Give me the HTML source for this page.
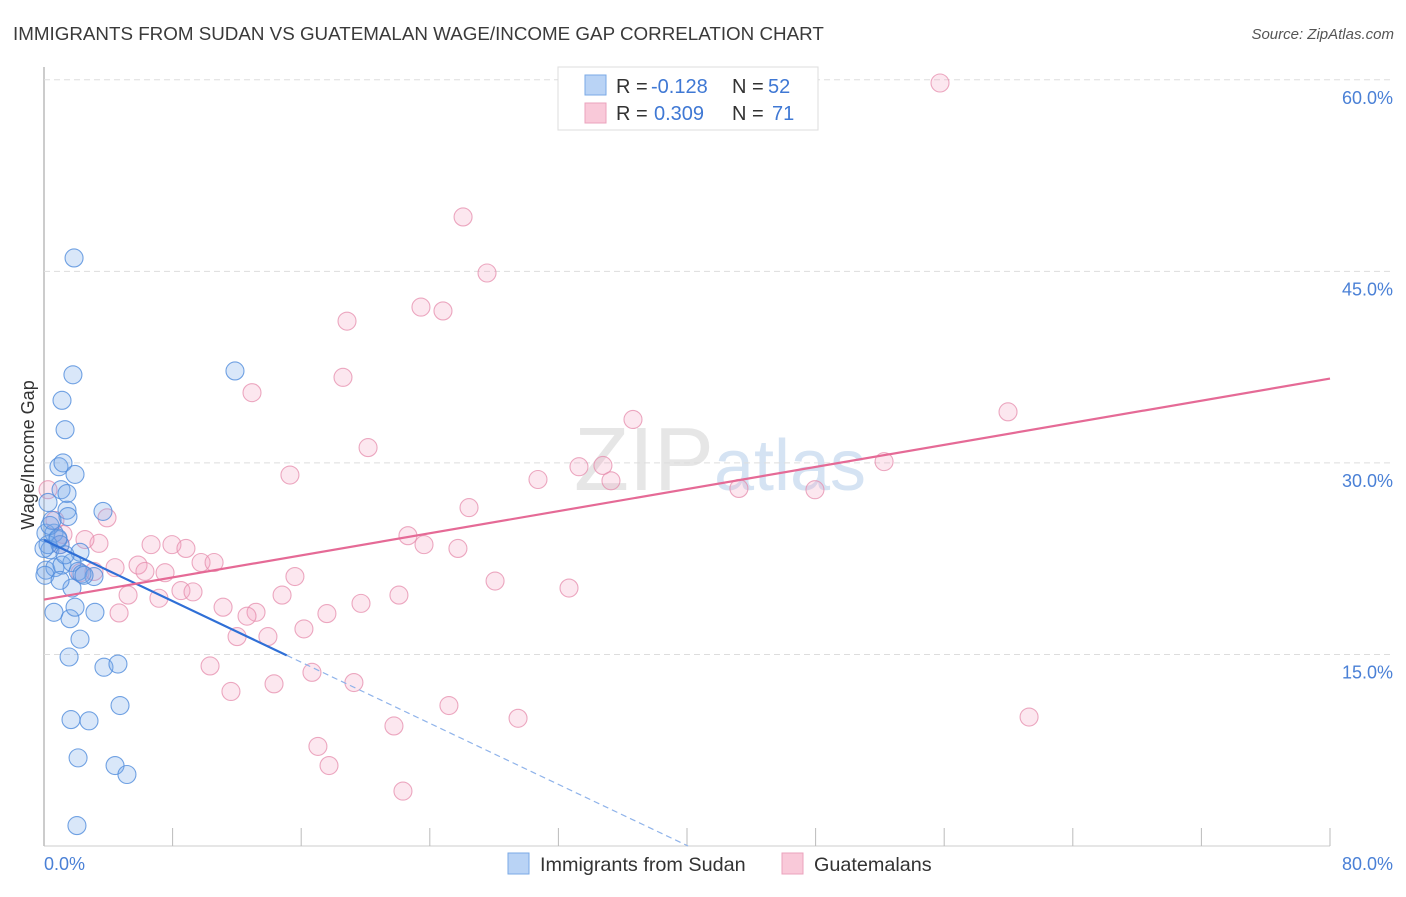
<!DOCTYPE html>
<html><head><meta charset="utf-8"><style>
body{margin:0;background:#fff;font-family:"Liberation Sans",sans-serif;}
svg text{font-family:"Liberation Sans",sans-serif;}
</style></head><body>
<svg id="c" width="1406" height="892" xmlns="http://www.w3.org/2000/svg">
<text x="13" y="40" font-size="18.8" fill="#3a3a3a">IMMIGRANTS FROM SUDAN VS GUATEMALAN WAGE/INCOME GAP CORRELATION CHART</text>
<text x="1394" y="39" font-size="15" fill="#555" font-style="italic" text-anchor="end">Source: ZipAtlas.com</text>
<text x="720" y="490" font-size="90" fill="#e6e6e6" text-anchor="middle" font-family="Liberation Serif">ZIP<tspan fill="#d5e3f3" font-family="Liberation Sans" font-size="72">atlas</tspan></text>
<g id="grid"></g>
<g id="marks"></g>
<text transform="translate(34,455) rotate(-90)" font-size="18" fill="#333" text-anchor="middle">Wage/Income Gap</text>
<g>
<rect x="558" y="67" width="260" height="63" fill="#fff" stroke="#ddd"/>
<rect x="585" y="75" width="21" height="20" fill="#b9d3f5" stroke="#7aa9e6"/>
<rect x="585" y="103" width="21" height="20" fill="#f9c9d9" stroke="#eba3bd"/>
<text x="616" y="93" font-size="20" fill="#333">R =</text>
<text x="651" y="93" font-size="20" fill="#3f78d4">-0.128</text>
<text x="732" y="93" font-size="20" fill="#333">N =</text>
<text x="768" y="93" font-size="20" fill="#3f78d4">52</text>
<text x="616" y="120" font-size="20" fill="#333">R =</text>
<text x="654" y="120" font-size="20" fill="#3f78d4">0.309</text>
<text x="732" y="120" font-size="20" fill="#333">N =</text>
<text x="772" y="120" font-size="20" fill="#3f78d4">71</text>
</g>
<g>
<rect x="508" y="853" width="21" height="21" fill="#b9d3f5" stroke="#7aa9e6"/>
<text x="540" y="871" font-size="19.8" fill="#333">Immigrants from Sudan</text>
<rect x="782" y="853" width="21" height="21" fill="#f9c9d9" stroke="#eba3bd"/>
<text x="814" y="871" font-size="19.8" fill="#333">Guatemalans</text>
</g>
</svg>
<script>
const yTicks=[15,30,45,60];
const yTickLabels=["15.0%","30.0%","45.0%","60.0%"];
const xTicks=[0,8,16,24,32,40,48,56,64,72,80];
const xEndLabels=["0.0%","80.0%"];
const sudanX=[1.87,11.88,1.80,1.12,1.31,0.93,1.18,1.93,1.06,1.43,1.43,1.49,3.67,0.25,0.12,0.62,0.87,0.37,1.0,2.24,0.12,0.68,1.12,1.74,2.12,3.11,2.36,1.74,0.62,1.62,1.93,3.17,2.24,1.56,3.73,4.6,4.73,1.68,2.80,2.12,4.42,5.16,2.05,0.25,0.0,0.37,0.87,0.06,1.31,0.5,1.0,2.49];
const sudanY=[46.05,37.2,36.9,34.9,32.6,29.7,30.0,29.1,27.9,27.6,26.3,25.8,26.2,26.9,24.5,24.5,24.0,23.2,23.6,23.0,21.6,21.8,22.0,22.2,21.5,21.1,21.3,20.2,18.3,17.8,18.7,18.3,16.2,14.8,14.0,14.25,11.0,9.9,9.8,6.9,6.3,5.6,1.6,23.6,23.3,25.1,24.1,21.2,22.8,25.5,20.8,21.2];
const guatX=[55.74,26.07,27.56,18.85,23.45,24.82,18.6,12.94,20.16,15.3,36.64,59.97,52.26,33.28,34.77,30.73,35.27,43.23,47.96,26.44,3.92,22.64,23.64,25.75,6.66,7.96,8.83,3.42,1.18,2.55,9.77,10.58,5.85,4.42,6.28,7.53,15.61,28.06,32.66,2.24,3.11,5.23,7.15,8.52,9.27,11.14,13.19,19.72,22.08,12.63,14.81,17.6,16.17,12.01,13.93,4.67,10.33,16.67,14.31,11.63,19.28,25.19,29.49,61.28,21.77,17.04,17.73,22.33,0.25,1.0,0.68];
const guatY=[59.75,49.26,44.87,41.1,42.2,41.9,36.7,35.5,31.2,29.05,33.4,34.0,30.1,29.7,29.8,28.7,28.6,28.0,27.9,26.5,25.7,24.3,23.6,23.3,23.6,23.6,23.3,23.7,24.4,24.0,22.2,22.2,22.0,21.8,21.5,21.4,21.1,20.75,20.2,21.4,21.5,19.65,19.4,20.0,19.9,18.7,18.3,19.0,19.65,18.0,19.65,18.2,17.0,16.4,16.4,18.25,14.1,13.6,12.7,12.1,12.8,11.0,10.0,10.1,9.4,7.8,6.3,4.3,27.9,23.6,25.5];
const sudanTrend=[23.96,-0.598];
const sudanSolidEnd=15.1;
const guatTrend=[19.3,0.2163];

const X=v=>44+v*16.075, Y=v=>846-v*12.77;
const NS="http://www.w3.org/2000/svg";
function mk(t,a,p){const e=document.createElementNS(NS,t);for(const k in a)e.setAttribute(k,a[k]);p.appendChild(e);return e;}
const grid=document.getElementById('grid'), marks=document.getElementById('marks');
let ax=mk('line',{x1:44,y1:67,x2:44,y2:846,stroke:'#bbb','stroke-width':1.5},grid);


let bx=mk('line',{x1:44,y1:846,x2:1330,y2:846,stroke:'#ccc'},grid);


yTicks.forEach((t,i)=>{
 const g=mk('line',{x1:44,x2:1394,y1:Y(t),y2:Y(t),stroke:'#ddd','stroke-dasharray':'6,4'},grid);
 
 
 const l=mk('text',{x:1393,y:Y(t)+24,'font-size':18,fill:'#4a80d6','text-anchor':'end'},grid);
 l.textContent=yTickLabels[i];
 
 
});
xTicks.forEach(t=>{
 const g=mk('line',{x1:X(t),x2:X(t),y1:828,y2:846,stroke:'#bbb'},grid);
 
 
});
const xl0=mk('text',{x:44,y:870,'font-size':18,fill:'#4a80d6'},grid);xl0.textContent=xEndLabels[0];


const xl1=mk('text',{x:1393,y:870,'font-size':18,fill:'#4a80d6','text-anchor':'end'},grid);xl1.textContent=xEndLabels[1];


guatX.forEach((x,i)=>{
 const c=mk('circle',{cx:X(x),cy:Y(guatY[i]),r:9,fill:'rgba(243,160,190,0.25)',stroke:'rgba(230,140,172,0.75)','stroke-width':1.1},marks);
 
 
});
sudanX.forEach((x,i)=>{
 const c=mk('circle',{cx:X(x),cy:Y(sudanY[i]),r:9,fill:'rgba(120,170,235,0.28)',stroke:'rgba(80,140,220,0.8)','stroke-width':1.1},marks);
 
 
});
const f=(tr,x)=>tr[0]+tr[1]*x;
const zeroX=-sudanTrend[0]/sudanTrend[1];
let l1=mk('line',{x1:X(0),y1:Y(f(sudanTrend,0)),x2:X(sudanSolidEnd),y2:Y(f(sudanTrend,sudanSolidEnd)),stroke:'#2f6fd6','stroke-width':2.2},marks);


let l2=mk('line',{x1:X(sudanSolidEnd),y1:Y(f(sudanTrend,sudanSolidEnd)),x2:X(zeroX),y2:Y(0),stroke:'#8fb3ea','stroke-width':1.2,'stroke-dasharray':'6,4'},marks);


let l3=mk('line',{x1:X(0),y1:Y(f(guatTrend,0)),x2:X(80),y2:Y(f(guatTrend,80)),stroke:'#e56a96','stroke-width':2.2},marks);


</script>
</body></html>
